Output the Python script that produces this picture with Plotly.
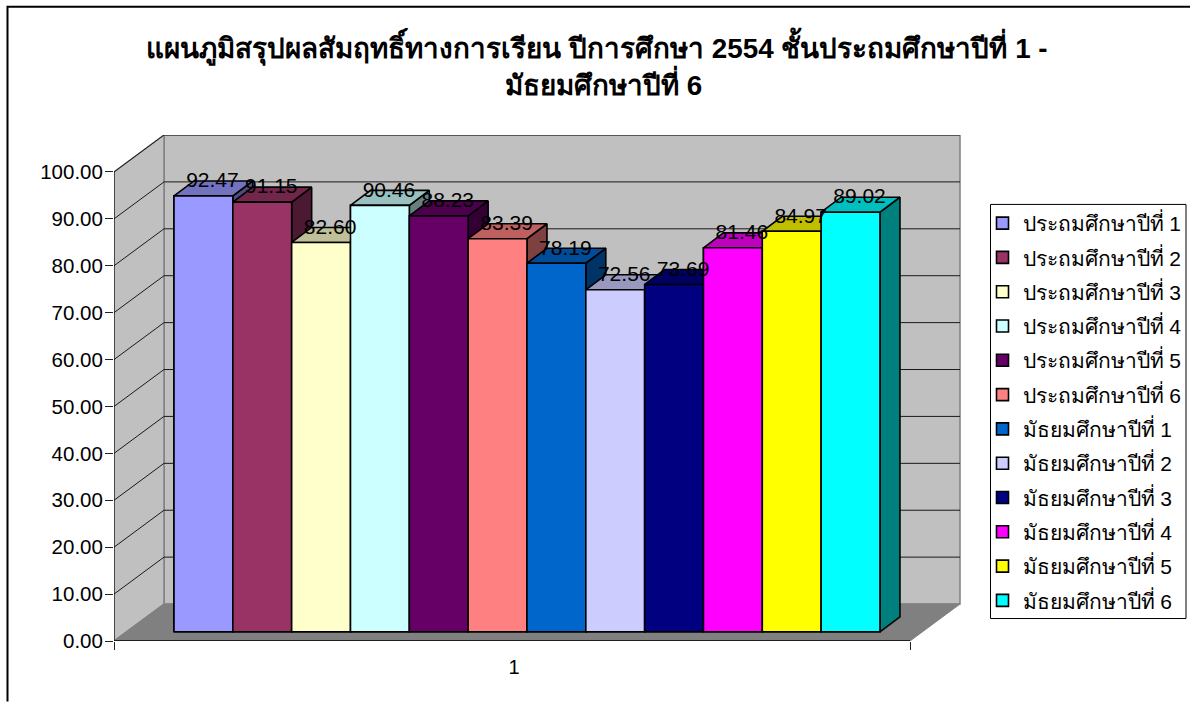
import plotly.graph_objects as go

# ---- data ----
categories = ["ประถมศึกษาปีที่ 1", "ประถมศึกษาปีที่ 2", "ประถมศึกษาปีที่ 3",
              "ประถมศึกษาปีที่ 4", "ประถมศึกษาปีที่ 5", "ประถมศึกษาปีที่ 6",
              "มัธยมศึกษาปีที่ 1", "มัธยมศึกษาปีที่ 2", "มัธยมศึกษาปีที่ 3",
              "มัธยมศึกษาปีที่ 4", "มัธยมศึกษาปีที่ 5", "มัธยมศึกษาปีที่ 6"]
values = [92.47, 91.15, 82.60, 90.46, 88.23, 83.39, 78.19, 72.56, 73.69, 81.46, 84.97, 89.02]
colors = ["#9999FF", "#993366", "#FFFFCC", "#CCFFFF", "#660066", "#FF8080",
          "#0066CC", "#CCCCFF", "#000080", "#FF00FF", "#FFFF00", "#00FFFF"]
title_line1 = "แผนภูมิสรุปผลสัมฤทธิ์ทางการเรียน ปีการศึกษา 2554 ชั้นประถมศึกษาปีที่ 1 -"
title_line2 = "มัธยมศึกษาปีที่ 6"
y_ticks = [0, 10, 20, 30, 40, 50, 60, 70, 80, 90, 100]

FONT = "Arial, 'Liberation Sans', 'Noto Sans', sans-serif"

# ---- oblique projection constants (chart-frame geometry) ----
W, H = 1190, 702
PL, PR, PT, PB = 114.0, 961.0, 135.0, 641.5     # plot frame in pixels
XU = 796.0       # px per category unit
YU = 4.695       # px per value unit
X0, X1 = 0.5, 1.5
WALL_DX, WALL_DY = 50 / XU, 37 / YU             # full depth of the floor
BAR_DX, BAR_DY = 20 / XU, 15 / YU               # depth of one bar
LIFT_X, LIFT_Y = 12.4 / XU, 9.2 / YU            # bars stand this far into the floor
GAP = 47.6 / XU
BAR_W = 58.83 / XU
BAR_SCALE = 1.005


def paper_x(px):
    return (px - PL) / (PR - PL)


def paper_y(py):
    return (PB - py) / (PB - PT)


def path(points):
    return "M" + " L".join(f"{x:.5f},{y:.4f}" for x, y in points) + " Z"


def shade(hex_color, f):
    r, g, b = int(hex_color[1:3], 16), int(hex_color[3:5], 16), int(hex_color[5:7], 16)
    return f"rgb({int(r*f)},{int(g*f)},{int(b*f)})"


shapes = []
bx0, bx1 = X0 + WALL_DX, X1 + WALL_DX
top_back = 100 + WALL_DY + 0.0
# back wall, left wall, floor
shapes.append(dict(type="path", layer="below", xref="x", yref="y",
                   path=path([(bx0, WALL_DY), (bx1, WALL_DY), (bx1, top_back), (bx0, top_back)]),
                   fillcolor="#C0C0C0", line=dict(color="#808080", width=1.5)))
shapes.append(dict(type="path", layer="below", xref="x", yref="y",
                   path=path([(X0, 0), (X0, 100), (bx0, top_back), (bx0, WALL_DY)]),
                   fillcolor="#C0C0C0", line=dict(color="#808080", width=1.5)))
shapes.append(dict(type="path", layer="below", xref="x", yref="y",
                   path=path([(X0, 0), (X1, 0), (bx1, WALL_DY), (bx0, WALL_DY)]),
                   fillcolor="#808080", line=dict(color="#808080", width=1)))
# gridlines on both walls
for v in y_ticks[1:]:
    shapes.append(dict(type="path", layer="below", xref="x", yref="y",
                       path=f"M{X0},{v} L{bx0},{v + WALL_DY} L{bx1},{v + WALL_DY}",
                       line=dict(color="#1a1a1a", width=1)))
# front edges
shapes.append(dict(type="line", layer="below", xref="x", yref="y", x0=X0, x1=X0, y0=0, y1=100,
                   line=dict(color="#000000", width=1)))
shapes.append(dict(type="line", layer="below", xref="x", yref="y", x0=X0, x1=X1, y0=0, y1=0,
                   line=dict(color="#000000", width=1.3)))
# chart-area border (open at the right and bottom of the picture)
shapes.append(dict(type="path", xref="paper", yref="paper",
                   path=f"M{paper_x(7.5):.5f},{paper_y(702):.5f} L{paper_x(7.5):.5f},{paper_y(6.7):.5f} "
                        f"L{paper_x(1190):.5f},{paper_y(6.7):.5f}",
                   line=dict(color="#000000", width=2)))
# legend box
shapes.append(dict(type="rect", xref="paper", yref="paper",
                   x0=paper_x(990.5), x1=paper_x(1186), y0=paper_y(619), y1=paper_y(204.5),
                   fillcolor="#FFFFFF", line=dict(color="#000000", width=1)))

fig = go.Figure()

# real bars (front faces + legend swatches)
lefts = [X0 + LIFT_X + GAP + i * BAR_W for i in range(len(values))]
for i, (name, v, c) in enumerate(zip(categories, values, colors)):
    fig.add_trace(go.Bar(x=[1], y=[v * BAR_SCALE], base=LIFT_Y, name=name, width=BAR_W,
                         offset=lefts[i] - 1, legendgroup=f"g{i}",
                         marker=dict(color=c, line=dict(color="#000000", width=1.6))))

# painter-ordered 3-D faces drawn on the same scales
for i, (v, c) in enumerate(zip(values, colors)):
    xl, xr = lefts[i], lefts[i] + BAR_W
    yb, yt = LIFT_Y, LIFT_Y + v * BAR_SCALE
    faces = [
        ([xr, xr + BAR_DX, xr + BAR_DX, xr, xr], [yb, yb + BAR_DY, yt + BAR_DY, yt, yb], shade(c, 0.5)),
        ([xl, xr, xr + BAR_DX, xl + BAR_DX, xl], [yt, yt, yt + BAR_DY, yt + BAR_DY, yt], shade(c, 0.75)),
        ([xl, xr, xr, xl, xl], [yb, yb, yt, yt, yb], c),
    ]
    for fx, fy, fc in faces:
        fig.add_trace(go.Scatter(x=fx, y=fy, mode="lines", fill="toself", fillcolor=fc,
                                 line=dict(color="#000000", width=1.6), showlegend=False,
                                 hoverinfo="skip"))

# value labels on the back edge of each bar top
fig.add_trace(go.Scatter(
    x=[l + BAR_W / 2 + BAR_DX / 2 - 1 / XU for l in lefts],
    y=[LIFT_Y + v * BAR_SCALE + BAR_DY - 1 / YU for v in values],
    text=[f"{v:.2f}" for v in values], mode="text", textposition="middle center",
    textfont=dict(family=FONT, size=21, color="#000000"), showlegend=False, hoverinfo="skip"))

fig.update_layout(
    width=W, height=H, barmode="overlay",
    margin=dict(l=PL, r=W - PR, t=PT, b=H - PB, autoexpand=False),
    paper_bgcolor="#FFFFFF", plot_bgcolor="#FFFFFF",
    font=dict(family=FONT, size=20, color="#000000"),
    title=dict(text=f"<b>{title_line1}</b>", x=597 / W, xanchor="center", y=1 - 48 / H, yanchor="middle",
               font=dict(family=FONT, size=27.8, color="#000000")),
    xaxis=dict(range=[X0, X0 + (PR - PL) / XU], tickmode="array", tickvals=[1], ticktext=["1"],
               ticks="outside", ticklen=8, tickcolor="rgba(0,0,0,0)", showgrid=False, zeroline=False, showline=False,
               ticklabelshift=2, tickfont=dict(family=FONT, size=20),
               minor=dict(tickmode="array", tickvals=[0.5, 1.5], ticks="outside", ticklen=8,
                          tickcolor="#222222", showgrid=False)),
    yaxis=dict(range=[0, (PB - PT) / YU], tickmode="array", tickvals=y_ticks, tickformat=".2f",
               ticks="outside", ticklen=8, tickcolor="#222222", showgrid=False, zeroline=False, showline=False,
               ticklabelstandoff=-2, tickfont=dict(family=FONT, size=20.5)),
    legend=dict(x=paper_x(982.5), xanchor="left", y=paper_y(203), yanchor="top", bgcolor="rgba(0,0,0,0)",
                borderwidth=0, tracegroupgap=4, traceorder="grouped", font=dict(family=FONT, size=21)),
    annotations=[dict(text=f"<b>{title_line2}</b>", xref="paper", yref="paper", x=paper_x(603), y=paper_y(83),
                      xanchor="center", yanchor="middle", showarrow=False,
                      font=dict(family=FONT, size=27.8, color="#000000"))],
    shapes=shapes, showlegend=True,
)

fig.write_html("out.html", config={"displayModeBar": False},
               post_script="document.body.style.margin='0';document.body.style.overflow='hidden';")
